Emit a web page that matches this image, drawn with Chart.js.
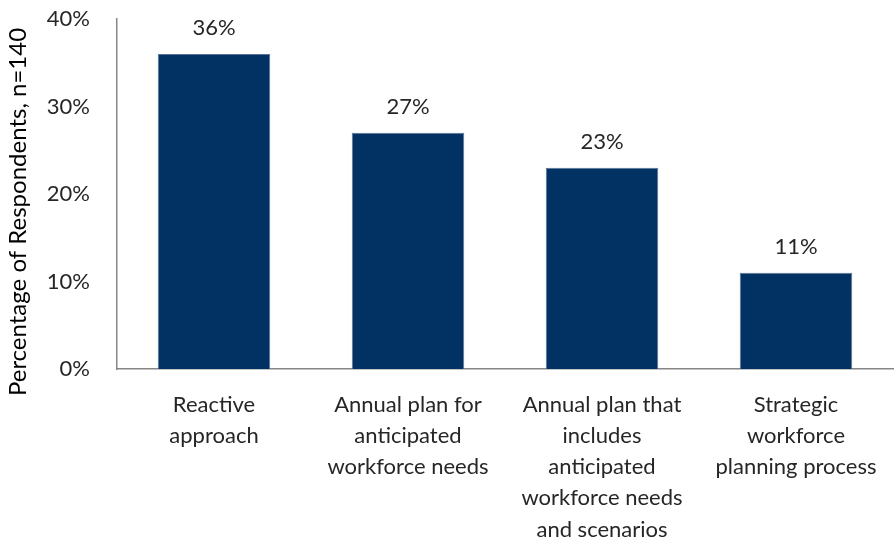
<!DOCTYPE html>
<html>
<head>
<meta charset="utf-8">
<script src="https://cdn.jsdelivr.net/npm/chart.js@4.4.0/dist/chart.umd.min.js"></script>
<style>
  html, body { margin: 0; padding: 0; background: #fff; }
  #wrap { width: 894px; height: 547px; position: relative; }
</style>
</head>
<body>
<div id="wrap"><canvas id="chart"></canvas></div>
<script>
const categories = [
    ["Reactive", "approach"],
    ["Annual plan for", "anticipated", "workforce needs"],
    ["Annual plan that", "includes", "anticipated", "workforce needs", "and scenarios"],
    ["Strategic", "workforce", "planning process"]
];
const values = [36, 27, 23, 11];
const yTicks = [0, 10, 20, 30, 40];
const yTitle = "Percentage of Respondents, n=140";

const FONT = "Lato, 'Open Sans', sans-serif";

// draws the percentage above each bar
const barLabels = {
    id: "barLabels",
    afterDatasetsDraw(chart) {
        const ctx = chart.ctx;
        const meta = chart.getDatasetMeta(0);
        ctx.save();
        ctx.font = "22px " + FONT;
        ctx.fillStyle = "#262626";
        ctx.textAlign = "center";
        ctx.textBaseline = "middle";
        meta.data.forEach((bar, i) => {
            ctx.fillText(values[i] + "%", bar.x, bar.y - 26);
        });
        ctx.restore();
    }
};

// y axis title, sits a bit lower than the plot centre like the original
const yTitlePlugin = {
    id: "yTitlePlugin",
    afterDraw(chart) {
        const ctx = chart.ctx;
        ctx.save();
        ctx.translate(18, 212);
        ctx.rotate(-Math.PI / 2);
        ctx.font = "24px " + FONT;
        ctx.fillStyle = "#000";
        ctx.textAlign = "center";
        ctx.textBaseline = "middle";
        ctx.fillText(yTitle, 0, 0);
        ctx.restore();
    }
};

document.addEventListener("DOMContentLoaded", function() {
    const ctx = document.getElementById("chart").getContext("2d");
    new Chart(ctx, {
        type: "bar",
        data: {
            labels: categories,
            datasets: [{
                data: values,
                backgroundColor: "#023263",
                borderColor: "#5b7494",
                borderWidth: 1,
                categoryPercentage: 0.58,
                barPercentage: 1
            }]
        },
        options: {
            responsive: true,
            maintainAspectRatio: false,
            animation: false,
            layout: { padding: 0 },
            plugins: {
                legend: { display: false },
                tooltip: { enabled: false }
            },
            scales: {
                x: {
                    grid: { display: false, drawTicks: false },
                    border: { display: true, color: "#868686", width: 1.5 },
                    ticks: {
                        color: "#262626",
                        font: { family: FONT, size: 22, lineHeight: 1.42 },
                        padding: 20,
                        maxRotation: 0,
                        autoSkip: false
                    },
                    afterFit(scale) {
                        scale.height = 178;
                        scale.paddingLeft = 0;
                        scale.paddingRight = 1;
                    }
                },
                y: {
                    min: 0,
                    max: 40,
                    afterBuildTicks(axis) {
                        axis.ticks = yTicks.map(v => ({ value: v }));
                    },
                    grid: { display: false, drawTicks: false },
                    border: { display: true, color: "#868686", width: 1.5 },
                    ticks: {
                        color: "#262626",
                        font: { family: FONT, size: 22 },
                        padding: 27,
                        callback: v => v + "%"
                    },
                    afterFit(scale) {
                        scale.width = 117;
                        scale.paddingTop = 19;
                        scale.paddingBottom = 0;
                    }
                }
            }
        },
        plugins: [barLabels, yTitlePlugin]
    });
});
</script>
</body>
</html>
